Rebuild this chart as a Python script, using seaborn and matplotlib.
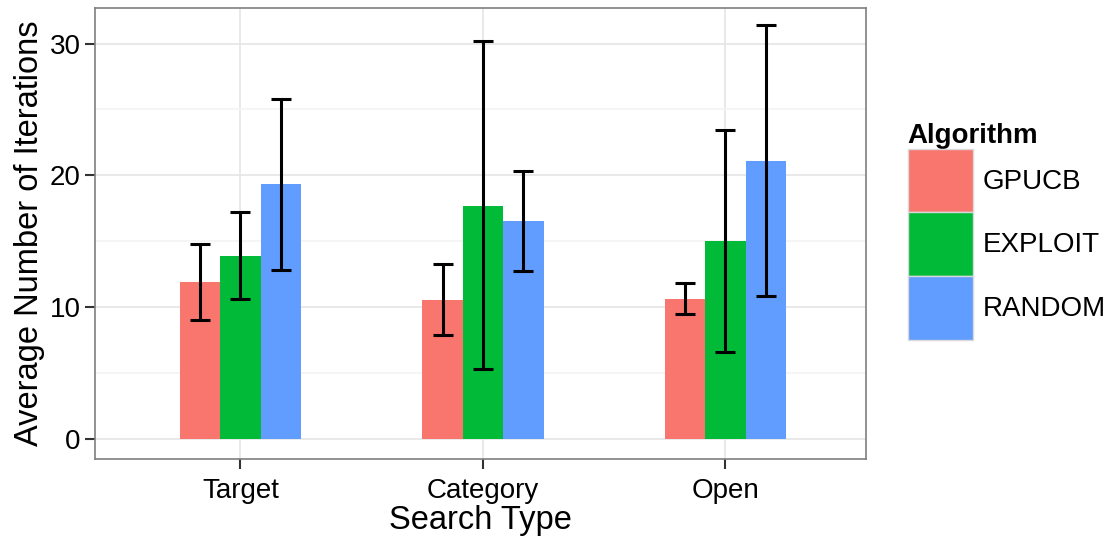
import matplotlib
matplotlib.use("Agg")
import matplotlib.pyplot as plt
from matplotlib.patches import Patch
from matplotlib.ticker import MultipleLocator
import seaborn as sns
import pandas as pd

# values
search_types = ["Target", "Category", "Open"]
algorithms = ["GPUCB", "EXPLOIT", "RANDOM"]
gpucb_mean = [11.9, 10.5, 10.6]
exploit_mean = [13.9, 17.7, 15.0]
random_mean = [19.35, 16.55, 21.1]
gpucb_low = [9.0, 7.85, 9.47]
gpucb_high = [14.78, 13.27, 11.82]
exploit_low = [10.63, 5.27, 6.58]
exploit_high = [17.22, 30.18, 23.44]
random_low = [12.84, 12.76, 10.86]
random_high = [25.82, 20.33, 31.42]
colors = ["#F8766D", "#00BA38", "#619CFF"]

means = [gpucb_mean, exploit_mean, random_mean]
lows = [gpucb_low, exploit_low, random_low]
highs = [gpucb_high, exploit_high, random_high]

rows = []
for a, m in zip(algorithms, means):
    for s, v in zip(search_types, m):
        rows.append({"Search Type": s, "Algorithm": a, "Iterations": v})
df = pd.DataFrame(rows)

sns.set_style("white")
plt.rcParams['font.family'] = ['Liberation Sans', 'DejaVu Sans']
plt.rcParams['text.color'] = "black"
plt.rcParams['axes.labelcolor'] = "black"

fig = plt.figure(figsize=(11.12, 5.43), dpi=100)
ax = fig.add_axes([95 / 1112, 84 / 543, 771 / 1112, 451 / 543])

sns.barplot(data=df, x="Search Type", y="Iterations", hue="Algorithm",
            order=search_types, hue_order=algorithms, palette=colors,
            width=0.5, errorbar=None, saturation=1, ax=ax, zorder=2,
            linewidth=0)

# error bars at the centre of each bar
for cont, lo, hi in zip(ax.containers, lows, highs):
    for bar, l, h in zip(cont, lo, hi):
        xc = bar.get_x() + bar.get_width() / 2
        mid = (l + h) / 2
        ax.errorbar([xc], [mid], yerr=[[mid - l], [h - mid]],
                    fmt="none", ecolor="black", elinewidth=2.2, capsize=7.2,
                    capthick=2.2, zorder=3)

ax.set_xlim(-0.6, 2.58)
ax.set_ylim(-1.55, 32.7)
ax.yaxis.set_major_locator(MultipleLocator(10))
ax.yaxis.set_minor_locator(MultipleLocator(5))
ax.grid(which="major", color="#E5E5E5", linewidth=1.2, zorder=0)
ax.grid(which="minor", axis="y", color="#F4F4F4", linewidth=1.2, zorder=0)
ax.set_axisbelow(True)
for sp in ax.spines.values():
    sp.set_visible(True)
    sp.set_color("#7F7F7F")
    sp.set_linewidth(1.2)

ax.tick_params(axis="both", which="major", length=7, width=1.5, color="#333333",
               labelsize=20, labelcolor="black", pad=3.5, direction="out")
ax.tick_params(axis="x", which="major", pad=6.5)
ax.tick_params(axis="y", which="minor", length=0)
ax.tick_params(left=True, bottom=True)
ax.set_xlabel("Search Type", fontsize=23.5, labelpad=1)
ax.set_ylabel("Average Number of Iterations", fontsize=23.5, labelpad=3)

if ax.get_legend() is not None:
    ax.get_legend().remove()

handles = [Patch(facecolor=c, edgecolor="#D9D9D9", linewidth=1) for c in colors]
leg = fig.legend(handles, algorithms, title="Algorithm", loc="upper left",
                 bbox_to_anchor=(905 / 1112, 1 - 120 / 543), frameon=False,
                 fontsize=20, title_fontsize=20, handlelength=2.35,
                 handleheight=3.15, labelspacing=0, handletextpad=0.35,
                 borderaxespad=0, borderpad=0.1)
leg.get_title().set_fontweight("bold")
leg._legend_box.align = "left"

fig.savefig("out.png", dpi=100)
